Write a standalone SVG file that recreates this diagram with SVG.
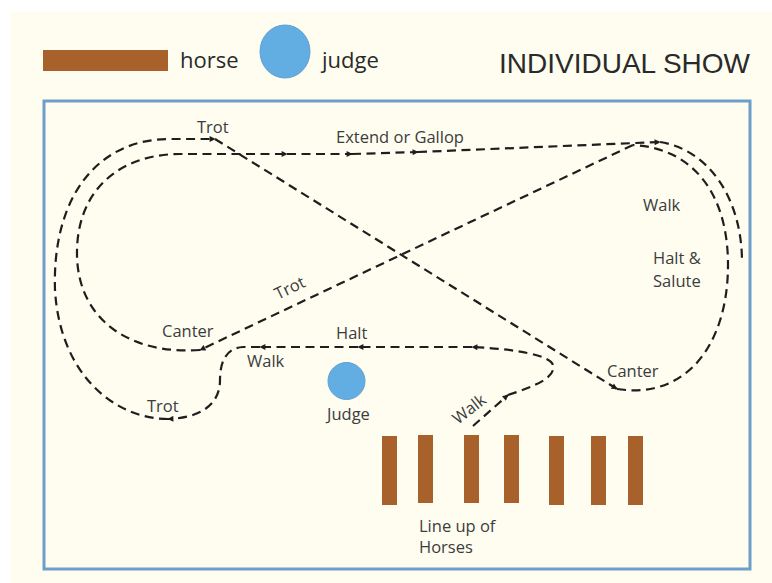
<svg xmlns="http://www.w3.org/2000/svg" width="772" height="583" viewBox="0 0 772 583">
<style>
.lbl{font-family:"Open Sans","Noto Sans",sans-serif;font-size:16.5px;fill:#3c3c3c}
.leg{font-family:"Open Sans","Noto Sans",sans-serif;font-size:22px;fill:#2a2a2a}
.ttl{font-family:"Liberation Sans",Arial,sans-serif;font-size:28px;fill:#2a2a2a}
.horse{fill:#a8612a}
.judge{fill:#62aee3;stroke:#5c9fd2;stroke-width:1}
.route{fill:none;stroke:#1e1e1e;stroke-width:2.2;stroke-dasharray:9 5.5}
.arr{marker-end:url(#ah)}
</style>
<defs>
<marker id="ah" viewBox="0 0 10 10" refX="9" refY="5" markerWidth="7" markerHeight="6" markerUnits="userSpaceOnUse" orient="auto">
<path d="M0,0 L10,5 L0,10 Z" fill="#1e1e1e"/>
</marker>
</defs>
<rect x="0" y="0" width="772" height="583" fill="#ffffff"/>
<rect x="10" y="12" width="762" height="571" fill="#fefdf0"/>

<g id="legend">
<rect class="horse" x="43" y="50" width="125" height="21"/>
<text class="leg" x="180" y="68">horse</text>
<ellipse class="judge" cx="285" cy="51.5" rx="25" ry="26.5"/>
<text class="leg" x="322" y="68">judge</text>
</g>
<g id="title">
<text class="ttl" x="499" y="73">INDIVIDUAL SHOW</text>
</g>

<g id="arena">
<rect x="44" y="101" width="706" height="468" fill="none" stroke="#6e9ec9" stroke-width="3"/>
</g>

<g id="connectors">
<path class="route arr" d="M473,426 L508,395"/>
<path class="route arr" d="M508,395 C535,386 556,378 553,365 C550,355 515,349 472,347"/>
<path class="route arr" d="M472,347 L358,347"/>
<path class="route arr" d="M358,347 L260,347"/>
<path class="route arr" d="M260,347 L243,347 C226,348 220,362 220,380 C220,405 200,418 168,419"/>
<path class="route arr" d="M168,419 C115,419 60,375 55,290 C52,200 95,139 170,139 L215,139"/>
<path class="route arr" d="M215,139 L617,389"/>
<path class="route" d="M617,389 C690,400 728,340 728,265 C728,190 690,148 633,145"/>
<path class="route arr" d="M633,145 L200,350"/>
<path class="route arr" d="M200,350 C130,355 78,320 77,255 C76,190 120,154 180,154 L287,154"/>
<path class="route arr" d="M287,154 L352,154"/>
<path class="route arr" d="M352,154 L418,152"/>
<path class="route arr" d="M418,152 L660,142"/>
<path class="route" d="M660,142 C710,150 742,200 742,262"/>
</g>

<g id="labels">
<text class="lbl" x="197" y="133">Trot</text>
<text class="lbl" x="336" y="143">Extend or Gallop</text>
<text class="lbl" x="643" y="211">Walk</text>
<text class="lbl" x="653" y="264">Halt &amp;</text>
<text class="lbl" x="653" y="287">Salute</text>
<text class="lbl" x="278" y="300" transform="rotate(-26 278 300)">Trot</text>
<text class="lbl" x="162" y="337">Canter</text>
<text class="lbl" x="336" y="339">Halt</text>
<text class="lbl" x="247" y="367">Walk</text>
<text class="lbl" x="607" y="377">Canter</text>
<text class="lbl" x="147" y="412">Trot</text>
<text class="lbl" x="458" y="425" transform="rotate(-38 458 425)">Walk</text>
</g>

<g id="judge">
<circle class="judge" cx="346.5" cy="381" r="18.5"/>
<text class="lbl" x="327" y="420">Judge</text>
</g>

<g id="lineup">
<rect class="horse" x="382" y="436" width="15" height="69"/>
<rect class="horse" x="418" y="435" width="15" height="68"/>
<rect class="horse" x="464" y="435" width="15" height="68"/>
<rect class="horse" x="504" y="435" width="15" height="68"/>
<rect class="horse" x="549" y="436" width="15" height="69"/>
<rect class="horse" x="591" y="436" width="15" height="69"/>
<rect class="horse" x="628" y="436" width="15" height="69"/>
<text class="lbl" x="419" y="532">Line up of</text>
<text class="lbl" x="419" y="553">Horses</text>
</g>
</svg>
